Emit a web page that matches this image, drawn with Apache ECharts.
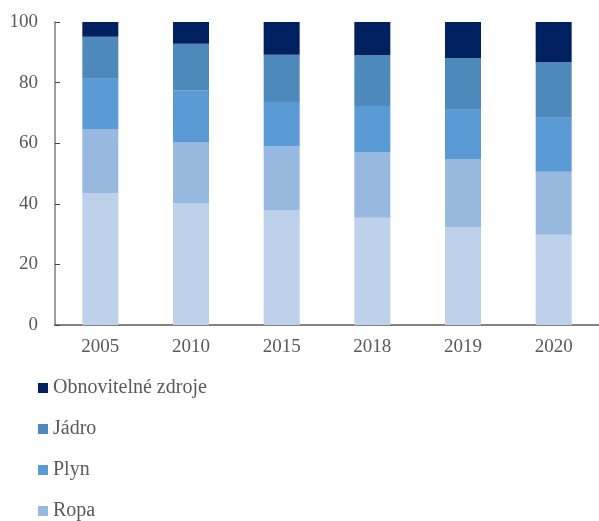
<!DOCTYPE html>
<html>
<head>
<meta charset="utf-8">
<script src="https://cdn.jsdelivr.net/npm/echarts@6/dist/echarts.min.js"></script>
<style>
  html, body { margin: 0; padding: 0; background: #fff; }
  #chart { width: 599px; height: 521px; }
</style>
</head>
<body>
<div id="chart"></div>
<script>
// roky
const years = ['2005', '2010', '2015', '2018', '2019', '2020'];
// podíly v %
const uhli = [43.6, 40.3, 37.9, 35.4, 32.3, 29.8];
const ropa = [21.1, 19.9, 21.0, 21.7, 22.5, 20.8];
const plyn = [16.6, 17.3, 14.7, 15.2, 16.2, 17.8];
const jadro = [13.8, 15.3, 15.6, 16.8, 17.1, 18.3];
const obnovitelne = [4.9, 7.2, 10.8, 10.9, 11.9, 13.3];
const yTicks = [0, 20, 40, 60, 80, 100];

const font = '"Liberation Serif", "Times New Roman", serif';

function bar(name, data, color) {
    return {
        name: name,
        type: 'bar',
        stack: 'mix',
        data: data,
        barWidth: 36,
        itemStyle: { color: color },
        emphasis: { disabled: true }
    };
}

const myChart = echarts.init(document.getElementById('chart'));
myChart.setOption({
    animation: false,
    textStyle: { fontFamily: font },
    grid: { left: 55, right: 0, top: 22, bottom: 196 },
    xAxis: {
        type: 'category',
        data: years,
        axisLine: { lineStyle: { color: '#595959', width: 1.5 } },
        axisTick: { inside: true, length: 5, lineStyle: { color: '#404040' } },
        axisLabel: { color: '#595959', fontSize: 19, fontFamily: font, margin: 13 }
    },
    yAxis: {
        type: 'value',
        min: yTicks[0],
        max: yTicks[yTicks.length - 1],
        interval: 20,
        splitLine: { show: false },
        axisLine: { show: true, lineStyle: { color: '#7f7f7f', width: 1.5 } },
        axisTick: { show: true, inside: true, length: 5, lineStyle: { color: '#404040' } },
        axisLabel: { color: '#595959', fontSize: 19, fontFamily: font, margin: 17 }
    },
    legend: {
        orient: 'vertical',
        left: 38,
        top: 378,
        height: 400,
        padding: 0,
        itemWidth: 10,
        itemHeight: 10,
        itemGap: 21,
        icon: 'rect',
        textStyle: { color: '#595959', fontSize: 20, fontFamily: font },
        data: ['Obnovitelné zdroje', 'Jádro', 'Plyn', 'Ropa', 'Uhlí']
    },
    series: [
        bar('Uhlí', uhli, '#bdd1ea'),
        bar('Ropa', ropa, '#97b9e0'),
        bar('Plyn', plyn, '#5b9bd5'),
        bar('Jádro', jadro, '#4e89bb'),
        bar('Obnovitelné zdroje', obnovitelne, '#002060')
    ]
});
</script>
</body>
</html>
